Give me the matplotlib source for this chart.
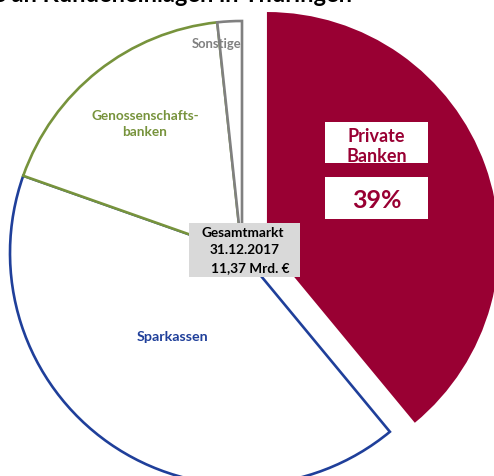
import matplotlib
matplotlib.use("Agg")
import matplotlib.pyplot as plt
from matplotlib.patches import Rectangle

plt.rcParams['font.family'] = ['Lato', 'DejaVu Sans']

categories = ["Private Banken", "Sparkassen", "Genossenschaftsbanken", "Sonstige"]
shares = [39.0, 41.4, 17.9, 1.7]
edge_colors = ["#990033", "#1f3f9a", "#77933c", "#808080"]
face_colors = ["#990033", "white", "white", "white"]
explode = [26.5, 0, 0, 0]
title = "Marktanteile an Kundeneinlagen in Thüringen"
total_lines = ["Gesamtmarkt", "31.12.2017", "11,37 Mrd. €"]

W, H = 494, 477
fig = plt.figure(figsize=(W / 100, H / 100), dpi=100)
ax = fig.add_axes([0, 0, 1, 1])

def Y(y):
    return H - y

cx, cy, r = 242, Y(254), 232
wedges, _ = ax.pie(shares, radius=r, center=(cx, cy), startangle=90,
                   counterclock=False, explode=explode, frame=True)
ax.set_xlim(0, W)
ax.set_ylim(0, H)
ax.axis('off')
for w, fc, ec in zip(wedges, face_colors, edge_colors):
    w.set_facecolor(fc)
    w.set_edgecolor(ec)
    w.set_linewidth(1.9)
    w.set_joinstyle('miter')
wedges[0].set_linewidth(0)

# title (mostly cropped at top, as in the reference)
ax.text(352, Y(1.5), title, ha='right', va='baseline', fontsize=17,
        fontweight='bold', color='black')

# Private Banken label boxes
ax.add_patch(Rectangle((325, Y(164)), 103, 41, facecolor='white', edgecolor='none', zorder=3))
ax.text(376.5, Y(136), "Private", ha='center', va='center', fontsize=13,
        fontweight='bold', color='#990033', zorder=4)
ax.text(376.5, Y(156), "Banken", ha='center', va='center', fontsize=13,
        fontweight='bold', color='#990033', zorder=4)
ax.add_patch(Rectangle((325, Y(220)), 103, 42, facecolor='white', edgecolor='none', zorder=3))
ax.text(376.5, Y(200), f"{shares[0]:.0f}%", ha='center', va='center', fontsize=18,
        fontweight='bold', color='#990033', zorder=4)

# Gesamtmarkt box
ax.add_patch(Rectangle((189, Y(278)), 111, 54, facecolor='#d9d9d9', edgecolor='none', zorder=3))
ax.text(243, Y(233), total_lines[0], ha='center', va='center', fontsize=9.8,
        fontweight='bold', color='black', zorder=4)
ax.text(245, Y(250), total_lines[1], ha='center', va='center', fontsize=9.8,
        fontweight='bold', color='black', zorder=4)
ax.text(250, Y(268), total_lines[2], ha='center', va='center', fontsize=9.8,
        fontweight='bold', color='black', zorder=4)

# other labels
ax.text(145, Y(124), "Genossenschafts-\nbanken", ha='center', va='center', fontsize=9.8,
        fontweight='bold', color='#77933c', linespacing=1.45, zorder=4)
ax.text(217, Y(44), "Sonstige", ha='center', va='center', fontsize=9.4,
        fontweight='bold', color='#808080', zorder=4)
ax.text(172, Y(337), "Sparkassen", ha='center', va='center', fontsize=10.3,
        fontweight='bold', color='#1f3f9a', zorder=4)

fig.savefig("out.png", dpi=100)
